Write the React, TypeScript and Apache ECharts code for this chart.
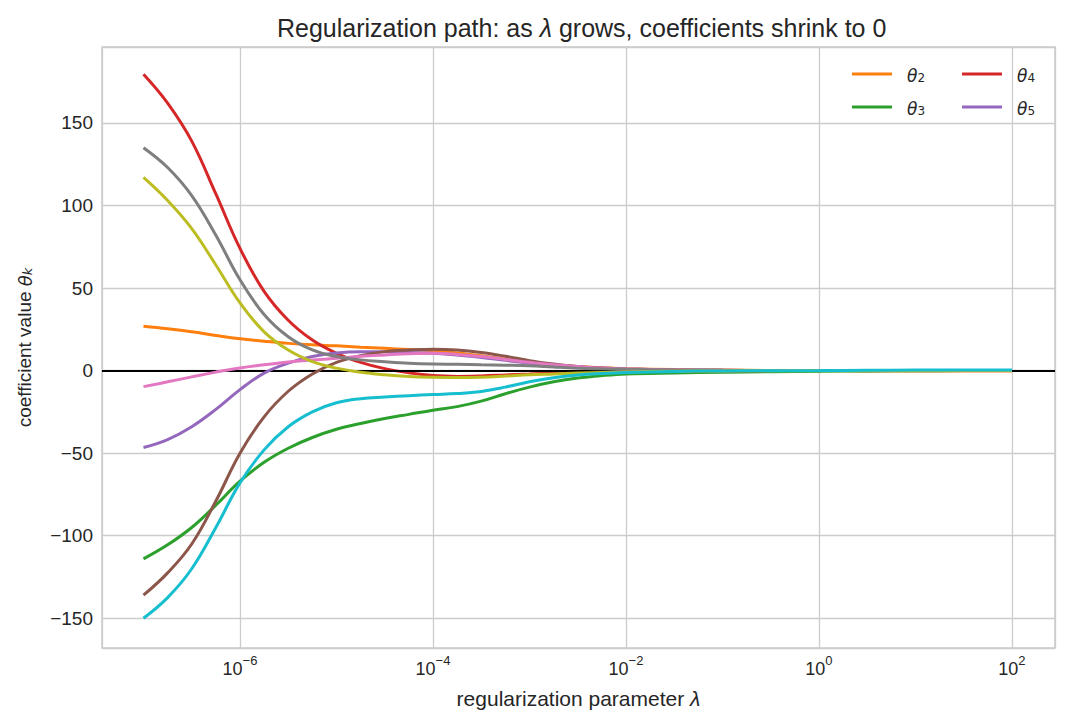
import React, { useEffect, useRef } from "react";
import * as echarts from "echarts";

// log10(lambda) sample positions
const logLambda = [
  -7, -6.75, -6.5, -6.25, -6, -5.75, -5.5, -5.25, -5, -4.75, -4.5, -4.25, -4, -3.75, -3.5, -3.25, -3, -2.75, -2.5, -2.25, -2,
  -1.5, -1, -0.5, 0, 0.5, 1, 1.5, 2,
];

const theta2 = [26.8, 25.3, 23.5, 21.3, 19.3, 17.8, 16.5, 15.6, 15, 14.2, 13.5, 12.8, 12, 10.7, 9, 7, 5, 3.5, 2.5, 1.7, 1.2, 0.6, 0.3, 0.1, 0, -0.2, -0.3, -0.3, -0.3];
const theta3 = [-114, -105.5, -95, -81.5, -67, -55.5, -47, -40.5, -35.5, -32, -29, -26.5, -24, -21.8, -18.5, -14, -10, -6.8, -4.5, -3, -2, -1.4, -1, -0.7, -0.4, -0.2, -0.1, 0, 0];
const theta4 = [179.5, 162, 139, 107, 74, 48, 30.5, 18.5, 10.5, 5, 1.2, -1.3, -3, -3.5, -3.2, -2.6, -2, -1.4, -1, -0.7, -0.5, -0.2, -0.1, 0, 0, 0, 0, 0, 0];
const theta5 = [-46.6, -41.8, -34, -23.5, -11.5, -1.5, 4.5, 8.5, 10.7, 11.5, 11.5, 11, 10.5, 9.5, 8, 6.2, 4.5, 3.2, 2, 1.4, 1, 0.5, 0.2, 0.1, 0, 0, 0, 0, 0];
const theta6 = [-136, -122.5, -105, -79, -50, -28, -12.5, -2, 5, 9, 11.5, 12.5, 13, 12.5, 11, 8.7, 6, 4, 2.5, 1.6, 1, 0.4, 0.2, 0.1, 0, 0, 0, 0, 0];
const theta7 = [-9.7, -6.8, -3.8, -0.9, 1.6, 3.5, 5.2, 6.4, 7.5, 8.7, 9.5, 10.2, 10.5, 9.8, 8.5, 6.8, 5, 3.5, 2.5, 1.6, 1, 0.4, 0.2, 0.1, 0, 0, 0, 0, 0];
const theta8 = [135, 123, 106, 82, 55, 34, 20.5, 12.5, 8.5, 6.5, 5.4, 4.5, 4, 3.8, 3.5, 3.3, 3, 2.2, 1.5, 1.1, 0.8, 0.4, 0.2, 0.1, 0, 0, 0, 0, 0];
const theta9 = [117, 103, 86, 64, 41, 23.5, 12.5, 5.5, 1.5, -1, -2.5, -3.5, -4, -4.2, -4, -3.3, -2.5, -2, -1.5, -1.1, -0.8, -0.4, -0.2, -0.1, 0, 0, 0, 0, 0];
const theta10 = [-150, -137.5, -120, -95, -68, -48, -34, -25, -19.5, -17, -16, -15.2, -14.5, -13.9, -12.6, -10, -6.8, -4.3, -2.7, -1.8, -1.2, -0.5, -0.2, -0.1, 0, 0.2, 0.3, 0.3, 0.3];

const seriesNames = ["θ2", "θ3", "θ4", "θ5", "θ6", "θ7", "θ8", "θ9", "θ10"];
const seriesValues = [theta2, theta3, theta4, theta5, theta6, theta7, theta8, theta9, theta10];
const seriesColors = ["#ff7f0e", "#2ca02c", "#d62728", "#9467bd", "#8c564b", "#e377c2", "#7f7f7f", "#bcbd22", "#17becf"];

const legendCol1 = ["θ2", "θ3"];
const legendCol2 = ["θ4", "θ5"];

const TEXT = "#262626";
const FONT = "Liberation Sans";

export default function App() {
  const ref = useRef<HTMLDivElement>(null);
  useEffect(() => {
    if (!ref.current) return;
    const chart = echarts.init(ref.current, undefined, { renderer: "svg" });

    const legendRich = {
      g: { width: 10, fontSize: 12 },
      t: { fontFamily: "DejaVu Sans", fontStyle: "italic", fontSize: 17, color: TEXT, verticalAlign: "bottom", lineHeight: 20 },
      s: { fontFamily: "DejaVu Sans", fontSize: 12, color: TEXT, verticalAlign: "bottom", lineHeight: 8 },
    };
    const legendBase = {
      orient: "vertical",
      top: 62,
      itemWidth: 40,
      itemHeight: 3,
      itemGap: 16,
      icon: "rect",
      selectedMode: false,
      formatter: (n: string) => `{g| }{t|θ}{s|${n.slice(1)}}`,
      textStyle: { rich: legendRich },
    };

    const series: any[] = seriesNames.map((name, i) => ({
      name,
      type: "line",
      data: logLambda.map((x, j) => [x, seriesValues[i][j]]),
      smooth: 0.4,
      symbol: "none",
      lineStyle: { width: 3, color: seriesColors[i] },
      itemStyle: { color: seriesColors[i] },
      z: 2 + i,
    }));
    series.push({
      name: "zero",
      type: "line",
      data: [],
      z: 20,
      markLine: {
        silent: true,
        symbol: "none",
        label: { show: false },
        lineStyle: { color: "#000000", width: 1.8, type: "solid" },
        data: [{ yAxis: 0 }],
      },
    });

    chart.setOption({
      animation: false,
      backgroundColor: "#ffffff",
      title: {
        text: "{a|Regularization path: as }{i|λ}{a| grows, coefficients shrink to 0}",
        left: 272,
        top: 10,
        textStyle: {
          rich: {
            a: { fontFamily: FONT, fontSize: 25, fontWeight: "normal", color: TEXT },
            i: { fontFamily: FONT, fontSize: 25, fontWeight: "normal", fontStyle: "italic", color: TEXT },
          },
        },
      },
      legend: [
        { ...legendBase, left: 847, data: legendCol1 },
        { ...legendBase, left: 957, data: legendCol2 },
      ],
      grid: {
        left: 102,
        right: 14,
        top: 47,
        bottom: 77,
        show: true,
        borderColor: "#cccccc",
        borderWidth: 1.5,
        containLabel: false,
      },
      xAxis: {
        type: "value",
        min: -7.43,
        max: 2.446,
        splitNumber: 5,
        axisLine: { show: false },
        axisTick: { show: false },
        splitLine: { lineStyle: { color: "#cccccc", width: 1.3 } },
        axisLabel: {
          showMinLabel: false,
          showMaxLabel: false,
          margin: 6,
          formatter: (v: number) =>
            Number.isInteger(v) ? `{b|10}{e|${String(v).replace("-", "−")}}` : "",
          rich: {
            b: { fontFamily: FONT, fontSize: 18, color: TEXT, verticalAlign: "bottom", lineHeight: 24 },
            e: { fontFamily: FONT, fontSize: 13, color: TEXT, verticalAlign: "top", lineHeight: 24 },
          },
        },
        name: "{a|regularization parameter }{i|λ}",
        nameLocation: "middle",
        nameGap: 40,
        nameTextStyle: {
          rich: {
            a: { fontFamily: FONT, fontSize: 21, color: TEXT },
            i: { fontFamily: FONT, fontSize: 21, fontStyle: "italic", color: TEXT },
          },
        },
      },
      yAxis: {
        type: "value",
        min: -168,
        max: 196,
        splitNumber: 7,
        axisLine: { show: false },
        axisTick: { show: false },
        splitLine: { lineStyle: { color: "#cccccc", width: 1.3 } },
        axisLabel: {
          showMinLabel: false,
          showMaxLabel: false,
          margin: 9,
          fontFamily: FONT,
          fontSize: 19,
          color: TEXT,
          formatter: (v: number) => (v % 50 === 0 ? String(v).replace("-", "−") : ""),
        },
        name: "{a|coefficient value }{i|θ}{k|k}",
        nameLocation: "middle",
        nameRotate: 90,
        nameGap: 68,
        nameTextStyle: {
          rich: {
            a: { fontFamily: FONT, fontSize: 19, color: TEXT, verticalAlign: "bottom", lineHeight: 24 },
            i: { fontFamily: "DejaVu Sans", fontSize: 18, fontStyle: "italic", color: TEXT, verticalAlign: "bottom", lineHeight: 24 },
            k: { fontFamily: "DejaVu Sans", fontSize: 13, fontStyle: "italic", color: TEXT, verticalAlign: "bottom", lineHeight: 10 },
          },
        },
      },
      series,
    });
    return () => chart.dispose();
  }, []);
  return (
    <div
      ref={ref}
      style={{ position: "fixed", left: 0, top: 0, width: 1069, height: 725, background: "#fff" }}
    />
  );
}
